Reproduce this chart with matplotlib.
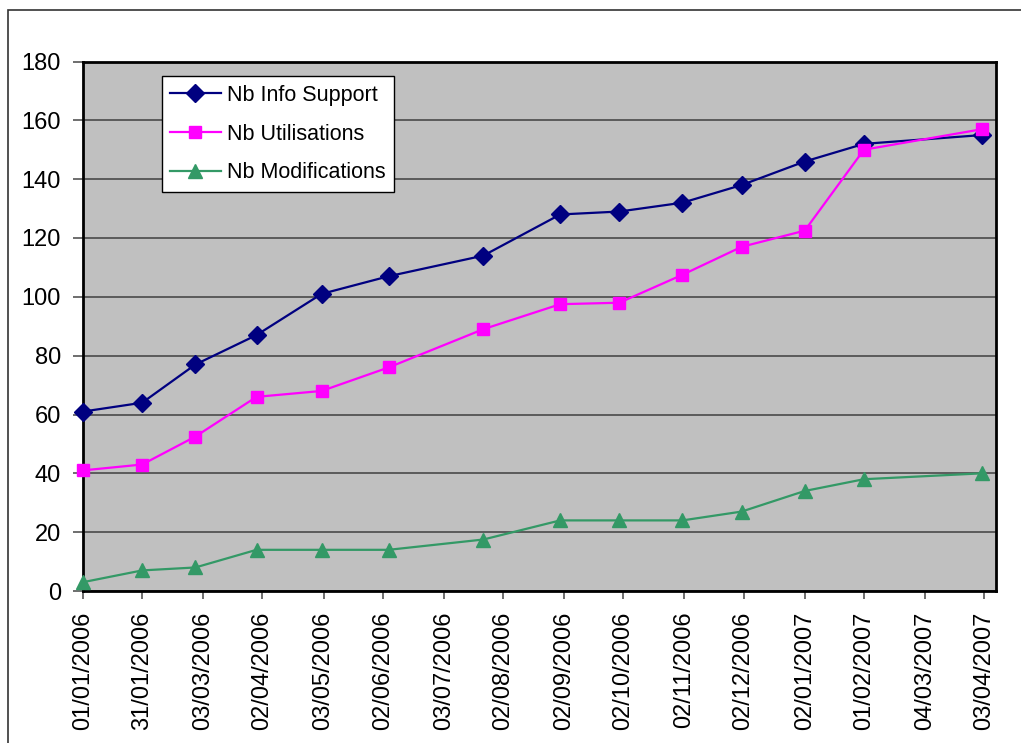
import matplotlib
matplotlib.use("Agg")
import matplotlib.pyplot as plt
from matplotlib.patches import Rectangle
import datetime as dt

plt.rcParams['font.family'] = ['Liberation Sans', 'DejaVu Sans']

# ---- data ----
dates = ["01/01/2006", "31/01/2006", "27/02/2006", "30/03/2006", "02/05/2006",
         "05/06/2006", "23/07/2006", "31/08/2006", "30/09/2006", "01/11/2006",
         "01/12/2006", "02/01/2007", "01/02/2007", "02/04/2007"]
nb_info_support = [61, 64, 77, 87, 101, 107, 114, 128, 129, 132, 138, 146, 152, 155]
nb_utilisations = [41, 43, 52.5, 66, 68, 76, 89, 97.5, 98, 107.5, 117, 122.5, 150, 157]
nb_modifications = [3, 7, 8, 14, 14, 14, 17.5, 24, 24, 24, 27, 34, 38, 40]

series_labels = ["Nb Info Support", "Nb Utilisations", "Nb Modifications"]
tick_labels = ["01/01/2006", "31/01/2006", "03/03/2006", "02/04/2006", "03/05/2006",
               "02/06/2006", "03/07/2006", "02/08/2006", "02/09/2006", "02/10/2006",
               "02/11/2006", "02/12/2006", "02/01/2007", "01/02/2007", "04/03/2007",
               "03/04/2007"]
x_max_date = "09/04/2007"
y_ticks = list(range(0, 181, 20))


def parse(s):
    return dt.datetime.strptime(s, "%d/%m/%Y")


x = [parse(d) for d in dates]
xt = [parse(d) for d in tick_labels]

fig = plt.figure(figsize=(10.21, 7.43), dpi=100)
fig.patch.set_facecolor("white")

# outer chart-area border (left and top visible)
fig.patches.append(Rectangle((7.5 / 1021, -0.05), 1.2, (743 - 10) / 743 + 0.05,
                             transform=fig.transFigure, fill=False,
                             edgecolor="#333333", linewidth=1.2, zorder=0))

ax = fig.add_axes([83 / 1021, (743 - 591) / 743, (996 - 83) / 1021, (591 - 61.5) / 743])
ax.set_facecolor("#C0C0C0")

fs = 17
ax.plot(x, nb_info_support, color="#000080", lw=1.6, marker="D", ms=9,
        mec="#000080", mfc="#000080", label=series_labels[0], zorder=3, clip_on=False)
ax.plot(x, nb_utilisations, color="#FF00FF", lw=1.6, marker="s", ms=9,
        mec="#FF00FF", mfc="#FF00FF", label=series_labels[1], zorder=3, clip_on=False)
ax.plot(x, nb_modifications, color="#339966", lw=1.6, marker="^", ms=10,
        mec="#339966", mfc="#339966", label=series_labels[2], zorder=3, clip_on=False)

ax.set_ylim(0, 180)
ax.set_yticks(y_ticks)
ax.set_xlim(xt[0], parse(x_max_date))
ax.set_xticks(xt)
ax.set_xticklabels(tick_labels, rotation=90, fontsize=fs)
ax.tick_params(axis="y", labelsize=fs, length=7, width=1.2, color="#555555", pad=9)
ax.tick_params(axis="x", length=6, width=1.2, color="#555555", pad=9)

ax.yaxis.grid(True, color="#4a4a4a", lw=1.2)
ax.set_axisbelow(True)
for sp in ax.spines.values():
    sp.set_color("black")
    sp.set_linewidth(2)

leg = ax.legend(loc="upper left", bbox_to_anchor=(0.086, 0.972), fontsize=15.5,
                frameon=True, fancybox=False, shadow=False, handlelength=2.35,
                labelspacing=0.82, borderpad=0.4, handletextpad=0.3,
                borderaxespad=0)
leg.get_frame().set_edgecolor("black")
leg.get_frame().set_linewidth(1.0)
leg.get_frame().set_facecolor("white")
leg.get_frame().set_alpha(1)

fig.savefig("out.png", dpi=100)
